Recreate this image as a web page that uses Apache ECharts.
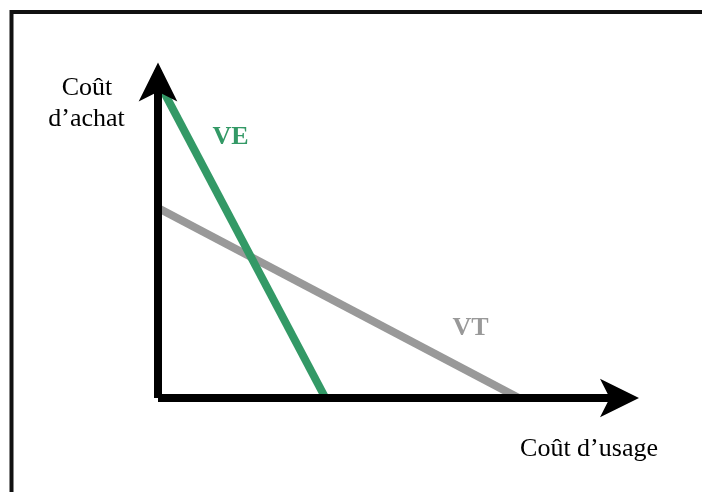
<!DOCTYPE html>
<html><head><meta charset="utf-8">
<script src="https://cdn.jsdelivr.net/npm/echarts@6/dist/echarts.min.js"></script>
<style>html,body{margin:0;padding:0;background:#fff}#c{width:702px;height:492px}</style>
</head><body><div id="c"></div>
<script>
// Axis titles
const xAxisName = "Coût d’usage";
const yAxisNameLines = ["Coût", "d’achat"];
// Series (schematic straight lines: purchase cost vs usage cost)
const seriesNames = ["VE", "VT"];
const veX = [0, 35.4];
const veY = [96.8, 0];
const vtX = [0, 76.3];
const vtY = [58.0, 0];
const colors = ["#339966", "#999999"];

const font = '"Liberation Serif", "Times New Roman", serif';
const chart = echarts.init(document.getElementById('c'), null, {renderer: 'canvas'});

function pairs(xs, ys) { return xs.map((x, i) => [x, ys[i]]); }

const axisCommon = {
  type: 'value', min: 0, max: 100,
  axisLine: {show: true, symbol: ['none', 'arrow'], symbolSize: [29, 39], symbolOffset: [0, 8],
    lineStyle: {color: '#000', width: 8, cap: 'butt'}},
  axisTick: {show: false}, axisLabel: {show: false}, splitLine: {show: false},
  zlevel: 1, z: 10
};

const option = {
  animation: false,
  backgroundColor: '#ffffff',
  grid: {left: 158, right: 71, top: 70.5, bottom: 94, containLabel: false},
  xAxis: axisCommon,
  yAxis: axisCommon,
  series: [
    {name: seriesNames[0], type: 'line', data: pairs(veX, veY), symbol: 'none', clip: false,
      lineStyle: {color: colors[0], width: 8, cap: 'butt'}, zlevel: 0, z: 2},
    {name: seriesNames[1], type: 'line', data: pairs(vtX, vtY), symbol: 'none', clip: false,
      lineStyle: {color: colors[1], width: 8, cap: 'butt'}, zlevel: 0, z: 1}
  ],
  graphic: [
    {type: 'rect', shape: {x: 11.5, y: 12, width: 900, height: 700},
      style: {fill: 'none', stroke: '#111', lineWidth: 4}, z: 0, silent: true},
    {type: 'text', x: 87, y: 88, style: {text: yAxisNameLines[0], font: '26px ' + font, fill: '#000',
      textAlign: 'center', textVerticalAlign: 'middle', align: 'center', verticalAlign: 'middle'}},
    {type: 'text', x: 86.5, y: 119, style: {text: yAxisNameLines[1], font: '26px ' + font, fill: '#000',
      textAlign: 'center', textVerticalAlign: 'middle', align: 'center', verticalAlign: 'middle'}},
    {type: 'text', x: 589, y: 449, style: {text: xAxisName, font: '26px ' + font, fill: '#000',
      textAlign: 'center', textVerticalAlign: 'middle', align: 'center', verticalAlign: 'middle'}},
    {type: 'text', x: 230.5, y: 137, style: {text: seriesNames[0], font: 'bold 26px ' + font, fill: colors[0],
      textAlign: 'center', textVerticalAlign: 'middle', align: 'center', verticalAlign: 'middle'}},
    {type: 'text', x: 470.5, y: 328.5, style: {text: seriesNames[1], font: 'bold 26px ' + font, fill: colors[1],
      textAlign: 'center', textVerticalAlign: 'middle', align: 'center', verticalAlign: 'middle'}}
  ]
};
chart.setOption(option);
</script>
</body></html>
